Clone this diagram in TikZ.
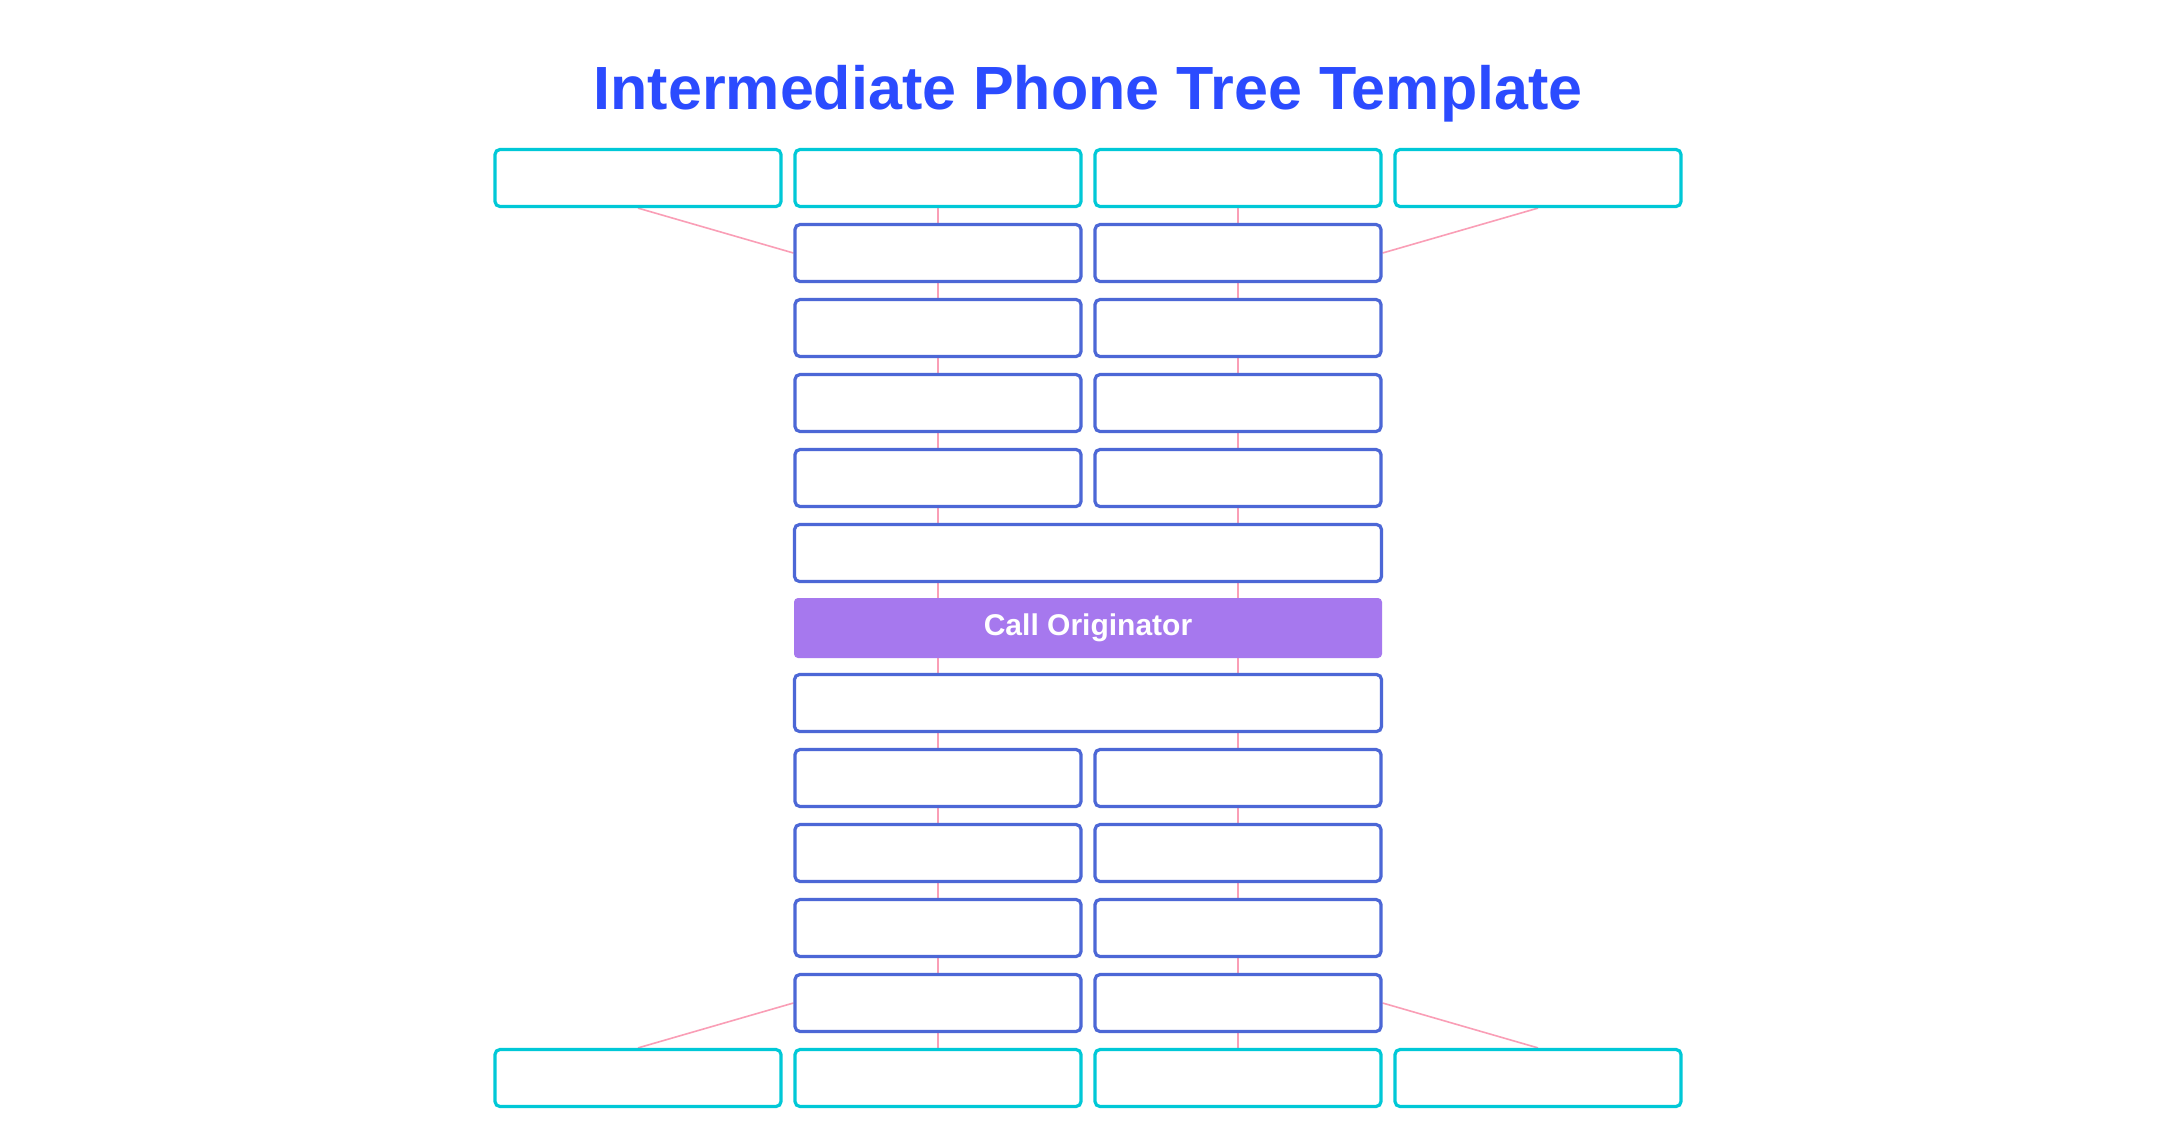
\documentclass[tikz,border=0pt]{standalone}
\usepackage{fontspec}
\setmainfont{Liberation Sans}
\usetikzlibrary{backgrounds}
\definecolor{cyanbox}{RGB}{0,200,215}
\definecolor{bluebox}{RGB}{76,103,214}
\definecolor{purplebox}{RGB}{166,120,238}
\definecolor{titleblue}{RGB}{43,75,255}
\definecolor{pinkline}{RGB}{250,158,182}
\tikzset{
  leafbox/.style={draw=cyanbox, line width=3.2pt, fill=white, rounded corners=5pt, minimum width=286pt, minimum height=57pt, inner sep=0pt},
  midbox/.style={draw=bluebox, line width=3.2pt, fill=white, rounded corners=5pt, minimum width=286pt, minimum height=57pt, inner sep=0pt},
  widebox/.style={draw=bluebox, line width=3.2pt, fill=white, rounded corners=5pt, minimum width=587pt, minimum height=57pt, inner sep=0pt},
  origbox/.style={fill=purplebox, rounded corners=4pt, minimum width=588pt, minimum height=60pt, inner sep=0pt, text=white, font=\bfseries\fontsize{30}{36}\selectfont},
  link/.style={draw=pinkline, line width=1.6pt},
  titletext/.style={text=titleblue, font=\bfseries\fontsize{61}{72}\selectfont, anchor=base, inner sep=0pt}
}
\begin{document}
\begin{tikzpicture}[x=1pt, y=-1pt]
\useasboundingbox (0,0) rectangle (2176,1143);
\node[titletext] (title) at (1088,109) {Intermediate Phone Tree Template};
% top leaf row
\node[leafbox] (t1) at (638,178) {};
\node[leafbox] (t2) at (938,178) {};
\node[leafbox] (t3) at (1238,178) {};
\node[leafbox] (t4) at (1538,178) {};
% upper branches
\node[midbox] (L1) at (938,253) {};
\node[midbox] (R1) at (1238,253) {};
\node[midbox] (L2) at (938,328) {};
\node[midbox] (R2) at (1238,328) {};
\node[midbox] (L3) at (938,403) {};
\node[midbox] (R3) at (1238,403) {};
\node[midbox] (L4) at (938,478) {};
\node[midbox] (R4) at (1238,478) {};
\node[widebox] (W1) at (1088,553) {};
\node[origbox] (co) at (1088,628) {Call Originator};
\node[widebox] (W2) at (1088,703) {};
% lower branches
\node[midbox] (L5) at (938,778) {};
\node[midbox] (R5) at (1238,778) {};
\node[midbox] (L6) at (938,853) {};
\node[midbox] (R6) at (1238,853) {};
\node[midbox] (L7) at (938,928) {};
\node[midbox] (R7) at (1238,928) {};
\node[midbox] (L8) at (938,1003) {};
\node[midbox] (R8) at (1238,1003) {};
% bottom leaf row
\node[leafbox] (b1) at (638,1078) {};
\node[leafbox] (b2) at (938,1078) {};
\node[leafbox] (b3) at (1238,1078) {};
\node[leafbox] (b4) at (1538,1078) {};
\begin{scope}[on background layer]
\fill[white] (0,0) rectangle (2176,1143);
% left chain
\draw[link] (t2.south) -- (L1.north);
\draw[link] (L1.south) -- (L2.north);
\draw[link] (L2.south) -- (L3.north);
\draw[link] (L3.south) -- (L4.north);
\draw[link] (L4.south) -- (W1.north -| L4.south);
\draw[link] (W1.south -| L4.south) -- (co.north -| L4.south);
\draw[link] (co.south -| L5.north) -- (W2.north -| L5.north);
\draw[link] (W2.south -| L5.north) -- (L5.north);
\draw[link] (L5.south) -- (L6.north);
\draw[link] (L6.south) -- (L7.north);
\draw[link] (L7.south) -- (L8.north);
\draw[link] (L8.south) -- (b2.north);
% right chain
\draw[link] (t3.south) -- (R1.north);
\draw[link] (R1.south) -- (R2.north);
\draw[link] (R2.south) -- (R3.north);
\draw[link] (R3.south) -- (R4.north);
\draw[link] (R4.south) -- (W1.north -| R4.south);
\draw[link] (W1.south -| R4.south) -- (co.north -| R4.south);
\draw[link] (co.south -| R5.north) -- (W2.north -| R5.north);
\draw[link] (W2.south -| R5.north) -- (R5.north);
\draw[link] (R5.south) -- (R6.north);
\draw[link] (R6.south) -- (R7.north);
\draw[link] (R7.south) -- (R8.north);
\draw[link] (R8.south) -- (b3.north);
% diagonals
\draw[link] (t1.south) -- (L1.west);
\draw[link] (t4.south) -- (R1.east);
\draw[link] (L8.west) -- (b1.north);
\draw[link] (R8.east) -- (b4.north);
\end{scope}
\end{tikzpicture}
\end{document}
